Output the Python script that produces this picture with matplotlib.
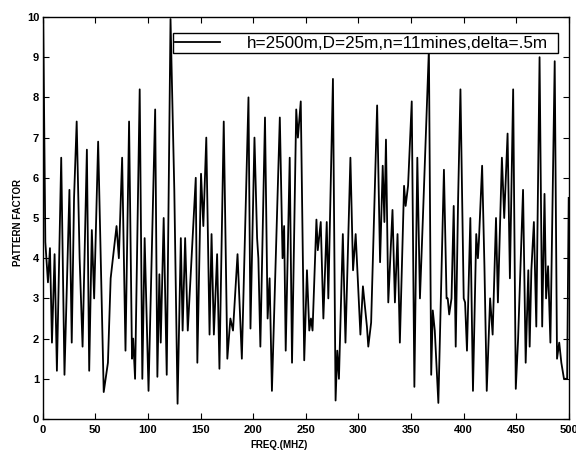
import matplotlib
matplotlib.use("Agg")
import matplotlib.pyplot as plt

freq = [0.5, 2.5, 5.0, 6.9, 8.8, 11.3, 13.5, 17.6, 20.7, 25.4, 27.6, 29.8, 32.3, 35.1, 37.9,
        42.0, 44.2, 46.7, 48.9, 52.7, 58.0, 62.0, 64.6, 70.2, 72.4, 75.5, 78.7, 82.1, 84.9,
        86.0, 87.8, 92.2, 94.7, 96.9, 100.6, 106.9, 109.0, 110.9, 112.2, 113.5, 115.0, 117.9,
        121.5, 125.1, 128.2, 131.3, 133.0, 135.4, 137.9, 145.5, 147.0, 150.5, 152.7, 155.5,
        158.6, 160.5, 162.7, 165.8, 168.0, 172.1, 175.5, 178.4, 180.9, 185.2, 189.3, 195.6,
        197.5, 201.3, 203.8, 205.0, 206.9, 211.3, 213.8, 215.7, 217.9, 225.4, 228.0, 229.5,
        231.0, 234.8, 237.0, 241.0, 242.6, 245.3, 248.6, 251.2, 253.4, 255.0, 256.5, 260.2,
        261.5, 264.3, 266.8, 270.0, 271.5, 275.9, 278.4, 280.0, 281.6, 285.3, 287.8, 292.5,
        295.0, 297.5, 302.0, 304.4, 308.2, 309.5, 312.2, 317.9, 320.7, 323.2, 324.8, 326.3,
        328.5, 332.5, 334.8, 337.3, 339.5, 343.5, 345.0, 347.3, 350.8, 353.3, 356.1, 358.6,
        361.4, 367.1, 369.3, 370.8, 372.7, 376.1, 381.4, 383.9, 385.0, 386.4, 388.6, 390.7,
        392.6, 394.9, 397.1, 400.2, 401.5, 403.3, 406.5, 409.0, 412.1, 413.7, 414.6, 417.7,
        419.9, 422.1, 425.3, 427.7, 430.9, 432.7, 436.5, 438.7, 441.9, 444.1, 447.2, 449.7,
        451.9, 456.6, 459.1, 461.6, 462.9, 464.5, 466.9, 469.2, 472.3, 474.8, 477.0, 478.5,
        480.4, 482.6, 486.7, 488.9, 491.0, 493.0, 495.5, 498.5, 500.0]
pattern = [9.9, 4.4, 3.4, 4.25, 1.9, 4.1, 1.2, 6.5, 1.1, 5.7, 1.9, 5.5, 7.4, 4.0, 1.8,
           6.7, 1.2, 4.7, 3.0, 6.9, 0.67, 1.4, 3.5, 4.8, 4.0, 6.5, 1.7, 7.4, 1.5,
           2.0, 1.0, 8.2, 1.0, 4.5, 0.7, 7.7, 1.05, 3.6, 1.9, 3.3, 5.0, 1.1,
           9.95, 5.7, 0.38, 4.5, 2.2, 4.5, 2.2, 6.0, 1.4, 6.1, 4.8, 7.0,
           2.1, 4.6, 2.1, 4.1, 1.25, 7.4, 1.5, 2.5, 2.2, 4.1, 1.5, 8.0,
           2.25, 7.0, 4.5, 4.0, 1.8, 7.5, 2.5, 3.5, 0.7, 7.5, 4.0, 4.8,
           1.7, 6.5, 1.4, 7.7, 7.0, 7.9, 1.46, 3.7, 2.2, 2.5, 2.2, 4.96,
           4.2, 4.9, 2.5, 4.9, 3.0, 8.46, 0.46, 1.7, 1.0, 4.6, 1.9, 6.5,
           3.7, 4.6, 2.1, 3.3, 2.3, 1.8, 2.4, 7.8, 3.9, 6.3, 4.9, 6.95,
           2.9, 5.2, 2.9, 4.6, 1.9, 5.8, 5.3, 5.8, 7.9, 0.8, 6.5, 3.0,
           5.0, 9.2, 1.1, 2.7, 2.2, 0.4, 6.2, 3.0, 3.0, 2.6, 3.0, 5.3,
           1.8, 5.5, 8.2, 3.0, 2.9, 1.7, 5.0, 0.7, 4.6, 4.0, 4.4, 6.3,
           3.8, 0.7, 3.0, 2.1, 5.0, 2.9, 6.5, 5.0, 7.1, 3.5, 8.2, 0.75,
           2.0, 5.7, 1.4, 3.7, 1.8, 3.7, 4.9, 2.3, 9.0, 2.3, 5.6, 3.0,
           3.8, 1.9, 8.9, 1.5, 1.9, 1.4, 1.0, 1.0, 5.5]

xticks = [0, 50, 100, 150, 200, 250, 300, 350, 400, 450, 500]
yticks = [0, 1, 2, 3, 4, 5, 6, 7, 8, 9, 10]
legend_label = "h=2500m,D=25m,n=11mines,delta=.5m"

plt.rcParams['font.family'] = ['Liberation Sans', 'DejaVu Sans']

fig = plt.figure(figsize=(5.76, 4.5), dpi=100)
ax = fig.add_axes([42.7 / 576, 1 - 419 / 450, 526 / 576, 402 / 450])
ax.plot(freq, pattern, color='black', lw=1.3, label=legend_label)
ax.set_xlim(0, 500)
ax.set_ylim(0, 10)
ax.set_xticks(xticks)
ax.set_yticks(yticks)
ax.tick_params(direction='in', top=True, right=True, length=4, width=0.8)
ax.tick_params(axis='x', pad=4.5)
ax.tick_params(axis='y', pad=2.5)
for lab in ax.get_xticklabels() + ax.get_yticklabels():
    lab.set_fontsize(8)
    lab.set_fontweight('bold')
for s in ax.spines.values():
    s.set_linewidth(1.0)

ax.set_xlabel("FREQ.(MHZ)", fontsize=7, fontweight='bold', va='center')
ax.xaxis.set_label_coords(0.45, -0.065)
ax.set_ylabel("PATTERN FACTOR", fontsize=7, fontweight='bold', va='center')
ax.yaxis.set_label_coords(-0.047, 0.49)

leg = ax.legend(loc='lower left', bbox_to_anchor=(0.247, 0.910, 0.733, 0.065),
                mode='expand', fancybox=False, framealpha=1, edgecolor='black',
                fontsize=12.3, handlelength=2.6, handletextpad=1.6, borderpad=0.15,
                borderaxespad=0)
leg.get_frame().set_linewidth(1.0)

fig.savefig("out.png", dpi=100)
